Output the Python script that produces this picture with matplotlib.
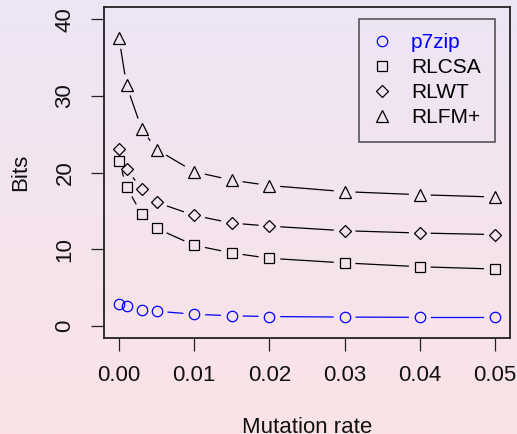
import numpy as np
import matplotlib
matplotlib.use("Agg")
import matplotlib.pyplot as plt
from matplotlib.lines import Line2D

plt.rcParams['font.family'] = ['Liberation Sans', 'DejaVu Sans']

# data
rate = [0.0, 0.001, 0.003, 0.005, 0.01, 0.015, 0.02, 0.03, 0.04, 0.05]
p7zip = [2.87, 2.6, 2.1, 1.9, 1.5, 1.3, 1.2, 1.13, 1.1, 1.1]
rlcsa = [21.5, 18.1, 14.6, 12.7, 10.5, 9.5, 8.8, 8.2, 7.7, 7.4]
rlwt = [23.1, 20.5, 17.8, 16.1, 14.4, 13.4, 13.0, 12.4, 12.1, 11.9]
rlfm = [37.55, 31.4, 25.7, 23.0, 20.1, 19.0, 18.3, 17.5, 17.1, 16.8]

names = ["p7zip", "RLCSA", "RLWT", "RLFM+"]
series = [p7zip, rlcsa, rlwt, rlfm]
colors = ["#0000ff", "black", "black", "black"]
markers = ["o", "s", "D", "^"]
msizes = [7.5, 6.5, 6.5, 9]

W, H, DPI = 517, 434, 100
FS = 16
fig = plt.figure(figsize=(W / DPI, H / DPI), dpi=DPI)

# gradient background like the R device
bg = fig.add_axes([0, 0, 1, 1], zorder=-10)
top = np.array([237, 229, 245]) / 255
bot = np.array([251, 227, 230]) / 255
t = np.linspace(0, 1, 256)[:, None]
grad = top[None, :] * (1 - t) + bot[None, :] * t
bg.imshow(grad[:, None, :], aspect="auto", extent=[0, 1, 0, 1])
bg.set_axis_off()

ax = fig.add_axes([104 / W, (H - 338) / H, (510 - 104) / W, (338 - 7) / H])
ax.patch.set_alpha(0)
ax.set_xlim(-0.002, 0.052)
ax.set_ylim(-1.6, 41.6)

# R type="b": points joined by lines that stop short of each point
gap = 11.5  # pixels
for ys, c, m, ms in zip(series, colors, markers, msizes):
    pts = ax.transData.transform(np.column_stack([rate, ys]))
    for a, b in zip(pts[:-1], pts[1:]):
        d = b - a
        L = np.hypot(*d)
        if L <= 2 * gap:
            continue
        u = d / L
        seg = ax.transData.inverted().transform([a + u * gap, b - u * gap])
        ax.plot(seg[:, 0], seg[:, 1], color=c, lw=0.9)
    ax.plot(rate, ys, linestyle="none", marker=m, ms=ms, mfc="none",
            mec=c, mew=0.9)

for s in ax.spines.values():
    s.set_linewidth(1.3)
    s.set_color("#222222")

ax.set_xticks([0, 0.01, 0.02, 0.03, 0.04, 0.05])
ax.set_xticklabels(["0.00", "0.01", "0.02", "0.03", "0.04", "0.05"])
ax.set_yticks([0, 10, 20, 30, 40])
ax.tick_params(axis="both", length=9.5, width=0.9, color="#222222",
               labelsize=FS, labelcolor="#111111")
ax.tick_params(axis="x", pad=10)
ax.tick_params(axis="y", pad=11)
for lab in ax.get_yticklabels():
    lab.set_rotation(90)
    lab.set_va("center")

ax.set_xlabel("Mutation rate", fontsize=FS, labelpad=22, color="#111111")
ax.set_ylabel("Bits", fontsize=FS, labelpad=17, color="#111111")

handles = [Line2D([], [], linestyle="none", marker=m, ms=ms, mfc="none",
                  mec=c, mew=0.9)
           for m, ms, c in zip(markers, msizes, colors)]
leg = ax.legend(handles, names, loc="upper right",
                bbox_to_anchor=(0.963, 0.964), fontsize=15,
                frameon=True, fancybox=False, facecolor="none",
                edgecolor="#222222", handlelength=0.8, handletextpad=1.0,
                labelspacing=0.28, borderpad=0.7, borderaxespad=0)
leg.get_frame().set_linewidth(1.1)
for txt, c in zip(leg.get_texts(), colors):
    txt.set_color(c)

fig.savefig("out.png", dpi=DPI)
